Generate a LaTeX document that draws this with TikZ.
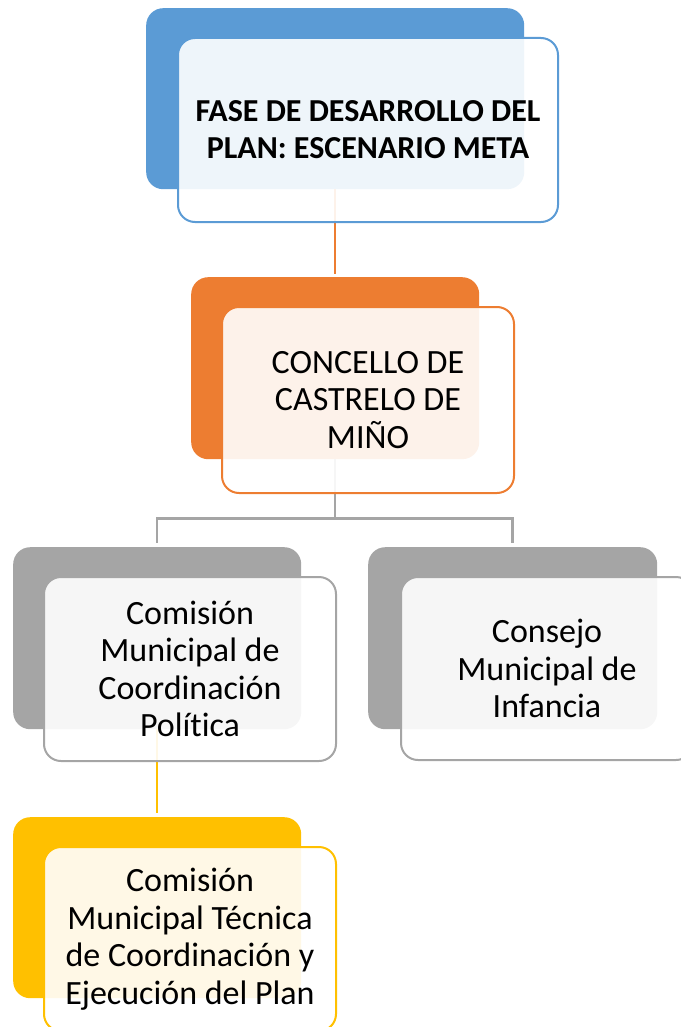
\documentclass[tikz,border=0pt]{standalone}
\usepackage{fontspec}
\setmainfont[Ligatures=NoCommon]{Carlito}
\usetikzlibrary{calc}
\definecolor{cblue}{HTML}{5B9BD5}
\definecolor{corange}{HTML}{ED7D31}
\definecolor{cgray}{HTML}{A5A5A5}
\definecolor{cyellow}{HTML}{FFC000}
\begin{document}
\begin{tikzpicture}[x=1pt,y=-1pt,
  back/.style={rectangle,rounded corners=17pt,anchor=north west,fill=#1,draw=none,inner sep=0pt},
  front/.style={rectangle,rounded corners=17pt,anchor=north west,draw=#1,line width=2pt,fill=white,fill opacity=0.9,text opacity=1,draw opacity=1,inner sep=0pt,align=center,font=\fontsize{34}{37.5}\selectfont},
  conn/.style={line width=2.5pt,draw=#1}]
\useasboundingbox (0,0) rectangle (680,1027);
% back boxes
\node[back=cblue,minimum width=378pt,minimum height=181pt] (b1) at (146,8) {};
\node[back=corange,minimum width=288pt,minimum height=182pt] (b2) at (191,277) {};
\node[back=cgray,minimum width=288pt,minimum height=182pt] (b3) at (13,547) {};
\node[back=cgray,minimum width=289pt,minimum height=182pt] (b5) at (368,547) {};
\node[back=cyellow,minimum width=288pt,minimum height=181pt] (b4) at (13,817) {};
% connectors
\draw[conn=corange] (b1.south) -- ([yshift=3pt]b2.north);
\coordinate (j) at ($(b2.south)+(0,59)$);
\draw[conn=cgray] (b2.south) -- (j) -| ([yshift=4pt]b3.north);
\draw[conn=cgray] (j) -| ([yshift=4pt]b5.north);
\draw[conn=cyellow] (b3.south) -- ([yshift=4pt]b4.north);
% front boxes
\node[front=cblue,minimum width=380pt,minimum height=184pt,font=\bfseries\fontsize{32}{37}\selectfont] (f1) at (177,37) {FASE DE DESARROLLO DEL\\PLAN: ESCENARIO META};
\node[front=corange,minimum width=292pt,minimum height=186pt] (f2) at (221,306) {CONCELLO DE\\CASTRELO DE\\MIÑO};
\node[front=cgray,minimum width=292pt,minimum height=184pt] (f3) at (43,576) {Comisión\\Municipal de\\Coordinación\\Política};
\node[front=cgray,minimum width=292pt,minimum height=183pt] (f5) at (400,576) {Consejo\\Municipal de\\Infancia};
\node[front=cyellow,minimum width=292pt,minimum height=184pt] (f4) at (43,846) {Comisión\\Municipal Técnica\\de Coordinación y\\Ejecución del Plan};
\end{tikzpicture}
\end{document}
